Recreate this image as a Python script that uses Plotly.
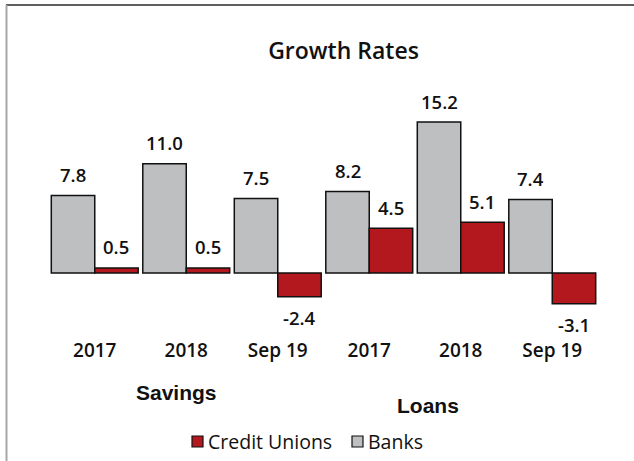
import plotly.graph_objects as go

# Growth rates (%) by period, savings then loans
periods = ["2017", "2018", "Sep 19", "2017", "2018", "Sep 19"]
group_names = ["Savings", "Loans"]
banks = [7.8, 11.0, 7.5, 8.2, 15.2, 7.4]
credit_unions = [0.5, 0.5, -2.4, 4.5, 5.1, -3.1]

BANK_COLOR = "#BEBFC1"
CU_COLOR = "#B2181D"
FONT = "Open Sans"

W, H = 634, 461
L, R, T, B = 49, 36, 100, 126
PW, PH = W - L - R, H - T - B
Y_RANGE = [-6.25, 17.42]
BARGAP = 0.05

x = list(range(len(periods)))


def px_x(px):
    return (px - L) / PW


def px_y(py):
    return (H - B - py) / PH


fig = go.Figure()
fig.add_trace(go.Bar(x=x, y=banks, name="Banks", marker=dict(color=BANK_COLOR, line=dict(color="#111111", width=1.5))))
fig.add_trace(go.Bar(x=x, y=credit_unions, name="Credit Unions", marker=dict(color=CU_COLOR, line=dict(color="#111111", width=1.5))))

# value labels above / below each bar
half = (1 - BARGAP) / 4
annotations = []
for series, off in ((banks, -half), (credit_unions, half)):
    for xi, v in zip(x, series):
        annotations.append(dict(
            x=xi + off, y=v, xref="x", yref="y", text=f"{v:.1f}", showarrow=False,
            yanchor="middle", yshift=21 if v >= 0 else -21, borderpad=0,
            font=dict(family=FONT, size=18.5, weight=600, color="#111111"),
        ))

# group captions
for name, cx, cy in ((group_names[0], 176.5, 392), (group_names[1], 427.5, 405)):
    annotations.append(dict(
        x=px_x(cx), y=px_y(cy), xref="paper", yref="paper", text=f"<b>{name}</b>",
        showarrow=False, xanchor="center", yanchor="middle",
        font=dict(family="Liberation Sans", size=21, color="#111111"),
    ))

# legend
shapes = []
for label, color, sx in (("Credit Unions", CU_COLOR, 192), ("Banks", BANK_COLOR, 352)):
    shapes.append(dict(
        type="rect", xref="paper", yref="paper",
        x0=px_x(sx), x1=px_x(sx + 11), y0=px_y(441.5 + 5.5), y1=px_y(441.5 - 5.5),
        fillcolor=color, line=dict(color="#111111", width=1.2),
    ))
    annotations.append(dict(
        x=px_x(sx + 14), y=px_y(441.5), xref="paper", yref="paper", text=label,
        showarrow=False, xanchor="left", yanchor="middle",
        font=dict(family=FONT, size=19.5, weight=500, color="#111111"),
    ))

# outer frame (top and left edges)
shapes.append(dict(type="line", xref="paper", yref="paper", x0=px_x(6), x1=px_x(W), y0=px_y(5), y1=px_y(5),
                   line=dict(color="#5f5f5f", width=2)))
shapes.append(dict(type="line", xref="paper", yref="paper", x0=px_x(6.5), x1=px_x(6.5), y0=px_y(5), y1=px_y(H),
                   line=dict(color="#a8a8a8", width=2)))

zero_pos = -Y_RANGE[0] / (Y_RANGE[1] - Y_RANGE[0])

fig.update_layout(
    width=W, height=H,
    margin=dict(l=L, r=R, t=T, b=B),
    paper_bgcolor="white", plot_bgcolor="white",
    barmode="group", bargap=BARGAP, bargroupgap=0,
    showlegend=False,
    title=dict(text="Growth Rates", x=px_x(343.5), xref="paper", xanchor="center",
               y=1 - 51 / H, yref="container", yanchor="middle",
               font=dict(family=FONT, size=23, weight=600, color="#111111")),
    xaxis=dict(range=[-0.5, 5.5], tickvals=x, ticktext=periods, showline=False, ticks="",
               showgrid=False, zeroline=False, fixedrange=True, ticklabelstandoff=2,
               tickfont=dict(family=FONT, size=19, weight=600, color="#111111")),
    xaxis2=dict(range=[-0.5, 5.5], overlaying="x", anchor="free", position=zero_pos, side="bottom",
                tickvals=[i - 0.5 for i in range(len(periods) + 1)], showticklabels=False,
                ticks="outside", ticklen=6, tickcolor="#8c8c8c", tickwidth=1,
                showline=True, linecolor="#8c8c8c", linewidth=1, showgrid=False, zeroline=False),
    yaxis=dict(range=Y_RANGE, visible=False, showgrid=False, zeroline=False),
    annotations=annotations,
    shapes=shapes,
)

fig.write_html("out.html")
